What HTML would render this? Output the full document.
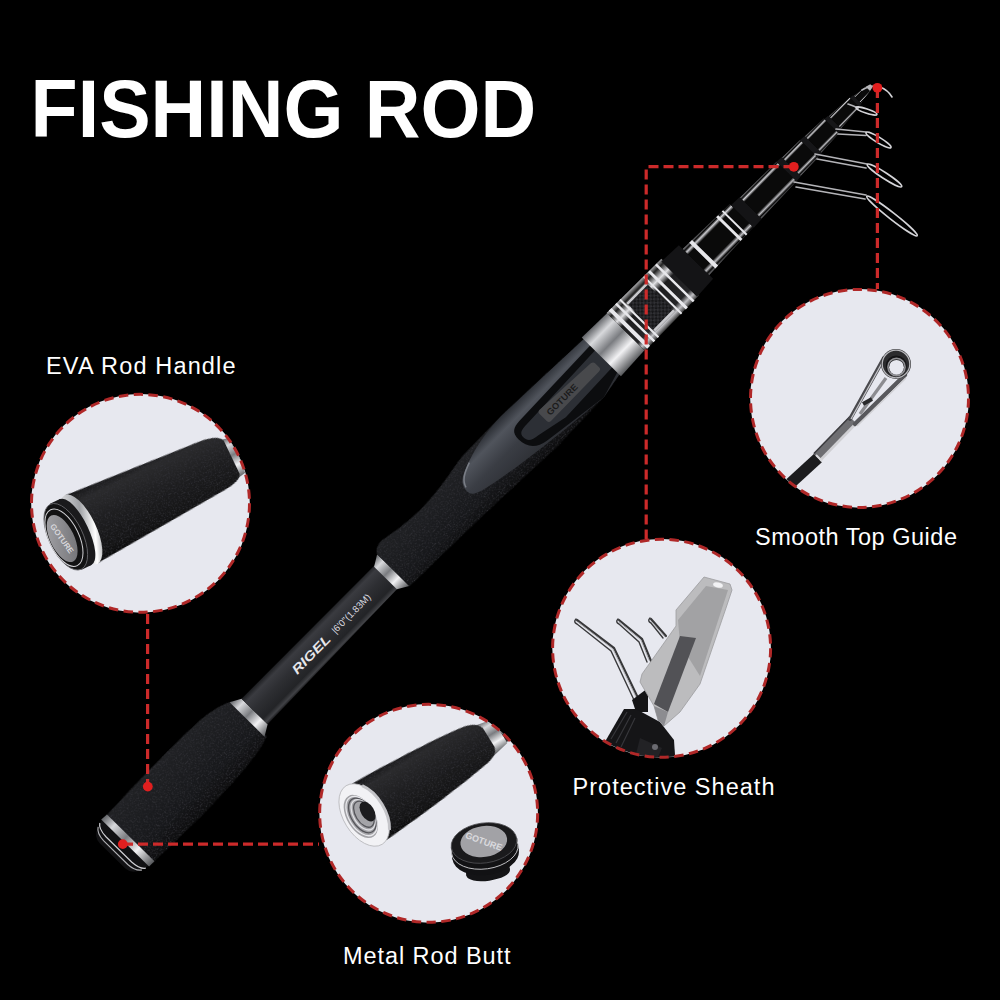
<!DOCTYPE html>
<html><head><meta charset="utf-8"><style>
html,body{margin:0;padding:0;background:#000;width:1000px;height:1000px;overflow:hidden}
svg{display:block}
text{font-family:"Liberation Sans",sans-serif;fill:#fff}
</style></head>
<body><svg width="1000" height="1000" viewBox="0 0 1000 1000">
<defs>
<clipPath id="c1"><circle cx="140.5" cy="503.35" r="109"/></clipPath>
<clipPath id="c2"><circle cx="859.5" cy="398.4" r="109"/></clipPath>
<clipPath id="c3"><circle cx="428.65" cy="813.35" r="109"/></clipPath>
<clipPath id="c4"><circle cx="661.6" cy="648.25" r="109"/></clipPath>

<linearGradient id="foam" x1="0" y1="0" x2="0" y2="1">
<stop offset="0" stop-color="#202124"/><stop offset="0.3" stop-color="#1d1e21"/><stop offset="0.7" stop-color="#17181b"/><stop offset="1" stop-color="#0c0c0d"/>
</linearGradient>
<linearGradient id="blank" x1="0" y1="0" x2="0" y2="1">
<stop offset="0" stop-color="#1c1d20"/><stop offset="0.15" stop-color="#3a3b40"/><stop offset="0.45" stop-color="#2d2e32"/><stop offset="0.8" stop-color="#232427"/><stop offset="0.92" stop-color="#414246"/><stop offset="1" stop-color="#18181a"/>
</linearGradient>
<linearGradient id="silver" x1="0" y1="0" x2="0" y2="1">
<stop offset="0" stop-color="#606266"/><stop offset="0.2" stop-color="#d8d9dc"/><stop offset="0.45" stop-color="#7a7c80"/><stop offset="0.7" stop-color="#f2f2f4"/><stop offset="1" stop-color="#55575a"/>
</linearGradient>
<linearGradient id="seat" x1="0" y1="0" x2="0" y2="1">
<stop offset="0" stop-color="#2a2d33"/><stop offset="0.2" stop-color="#50545c"/><stop offset="0.5" stop-color="#3a3d44"/><stop offset="1" stop-color="#2a2c31"/>
</linearGradient>
<linearGradient id="glass" x1="0" y1="0" x2="0" y2="1">
<stop offset="0" stop-color="#8a8a8e"/><stop offset="0.07" stop-color="#050505"/><stop offset="0.13" stop-color="#cfcfd3"/><stop offset="0.21" stop-color="#0a0a0a"/><stop offset="0.78" stop-color="#0a0a0a"/><stop offset="0.86" stop-color="#bdbdc1"/><stop offset="0.93" stop-color="#050505"/><stop offset="1" stop-color="#7a7a7e"/>
</linearGradient>
<linearGradient id="carbon" x1="0" y1="0" x2="0" y2="1">
<stop offset="0" stop-color="#b8b8bb"/><stop offset="0.1" stop-color="#222"/><stop offset="0.25" stop-color="#e0e0e3"/><stop offset="0.38" stop-color="#1c1c1e"/><stop offset="0.8" stop-color="#262628"/><stop offset="0.9" stop-color="#c0c0c4"/><stop offset="1" stop-color="#333"/>
</linearGradient>

<linearGradient id="foamC" x1="0" y1="0" x2="0" y2="1">
<stop offset="0" stop-color="#161618"/><stop offset="0.15" stop-color="#2a2a2c"/><stop offset="0.45" stop-color="#1f1f21"/><stop offset="0.85" stop-color="#141415"/><stop offset="1" stop-color="#0a0a0a"/>
</linearGradient>
<linearGradient id="silverC" x1="0" y1="0" x2="1" y2="1">
<stop offset="0" stop-color="#f4f4f6"/><stop offset="0.5" stop-color="#a0a2a6"/><stop offset="0.75" stop-color="#ffffff"/><stop offset="1" stop-color="#6a6c70"/>
</linearGradient>
<linearGradient id="plate" x1="0" y1="0" x2="1" y2="1">
<stop offset="0" stop-color="#a6a6aa"/><stop offset="1" stop-color="#6e6e72"/>
</linearGradient>
<linearGradient id="sheath" x1="0" y1="0" x2="1" y2="0">
<stop offset="0" stop-color="#c4c4c6"/><stop offset="0.5" stop-color="#a8a8aa"/><stop offset="1" stop-color="#bdbdc0"/>
</linearGradient>
<pattern id="chk" width="5" height="5" patternUnits="userSpaceOnUse"><rect width="5" height="5" fill="#161618"/><rect width="2.5" height="2.5" fill="#303034"/><rect x="2.5" y="2.5" width="2.5" height="2.5" fill="#303034"/></pattern>
<filter id="tex" x="0" y="0" width="100%" height="100%" color-interpolation-filters="sRGB">
<feTurbulence type="fractalNoise" baseFrequency="0.8" numOctaves="2" seed="3" result="n"/>
<feColorMatrix in="n" type="matrix" values="0 0 0 0 0.19  0 0 0 0 0.19  0 0 0 0 0.21  0 0 0 3.5 -1.75" result="sp"/>
<feComposite in="sp" in2="SourceGraphic" operator="in" result="spc"/>
<feMerge><feMergeNode in="SourceGraphic"/><feMergeNode in="spc"/></feMerge>
</filter>
</defs>
<rect width="1000" height="1000" fill="#000"/>

<!-- title -->
<text x="30.6" y="137" font-size="82" font-weight="bold" textLength="505.6" lengthAdjust="spacingAndGlyphs">FISHING ROD</text>

<!-- labels -->
<text x="46" y="374" font-size="23.5" textLength="189.5" lengthAdjust="spacing">EVA Rod Handle</text>
<text x="755" y="545" font-size="23.5" textLength="202" lengthAdjust="spacing">Smooth Top Guide</text>
<text x="572.5" y="794.5" font-size="23.5" textLength="202" lengthAdjust="spacing">Protective Sheath</text>
<text x="343" y="963.5" font-size="23.5" textLength="167.5" lengthAdjust="spacing">Metal Rod Butt</text>


<!-- ROD -->
<g transform="translate(126.85 841.15) rotate(-45.5)">
 <!-- rear grip -->
 <path d="M3 -32.5 C 50 -34, 110 -34.5, 138 -32.5 Q 162 -30 173 -23 L173 26 Q 162 31 142 32.5 C 110 36.5, 50 36, 3 33.5 Z" fill="url(#foam)" filter="url(#tex)"/>
 <!-- butt cap -->
 <path d="M-1 -33 L-11 -30 Q-20 -27 -20.5 -18 L-20.5 18 Q-20 27 -11 30 L-1 33.5 Z" fill="#111113"/>
 <path d="M-2.5 -33.5 L5 -32.8 L5 33.8 L-2.5 33.6 Z" fill="url(#silver)"/>
 <path d="M-6 -32 Q-11 -29 -11.5 -18 L-11.5 18 Q-11 29 -6 32.5" fill="none" stroke="#d0d0d4" stroke-width="1.2"/>
 <path d="M-10 -30.5 Q-15.5 -27 -16 -17 L-16 17 Q-15.5 27 -10 31" fill="none" stroke="#b0b0b4" stroke-width="1.1"/>
 <!-- ring cone -->
 <path d="M171 -24 L182 -18 L182 18.5 L171 25 Z" fill="url(#silver)"/>
 <!-- blank -->
 <path d="M182 -18 L380 -16.5 L380 16 L182 18.5 Z" fill="url(#blank)"/>
 <text x="238" y="5" font-size="13" font-weight="bold" font-style="italic" textLength="49" lengthAdjust="spacingAndGlyphs" style="fill:#e6e6ea">RIGEL</text>
 <text x="294" y="3.8" font-size="9.5" textLength="51" lengthAdjust="spacingAndGlyphs" style="fill:#dcdce0">|6'0"(1.83M)</text>
 <!-- front ring -->
 <path d="M369 -16 L380 -22.5 L380 22.5 L369 16 Z" fill="url(#silver)"/>
 <!-- front grip -->
 <path d="M380 -23 Q384 -29 392 -29 C 400 -28, 420 -23, 445 -23 C 470 -23, 490 -28, 510 -30.5 L565 -31 L614 -29 L679 -26 L679 24 L651 29 L581 30.5 C 540 28, 470 25, 380 23 Z" fill="url(#foam)" filter="url(#tex)"/>
 <!-- reel seat body -->
 <path d="M488 -2 C 488 -12, 494 -16, 505 -20 C 520 -26, 540 -30.5, 565 -31 L614 -29 L679 -26 L679 24 L651 29 C 620 26, 560 20, 520 12 C 500 8, 488 6, 488 -2 Z" fill="url(#seat)"/>
 <path d="M490 -6 C 492 -13, 498 -17, 510 -21" fill="none" stroke="#7a7e86" stroke-width="1.5"/>
 <!-- slot -->
 <path d="M561 -2 C 561 -12, 566 -14, 575 -14.5 L679 -17 L679 21 L651 29 L580 19 C 568 17, 561 10, 561 -2 Z" fill="#0c0d0f"/>
 <path d="M566 0 C 566 -6, 570 -7, 578 -7 L679 -10 L679 14 L610 16 L578 9 C 570 8, 566 6, 566 0 Z" fill="#2c2f35"/>
 <path d="M597 -8 L666 -4 Q669 -3.5 669 -1 L669 5 Q669 7.5 666 7.5 L597 8 Q594 8 594 5 L594 -5 Q594 -8 597 -8 Z" fill="#48494c"/>
 <text x="600" y="4" font-size="9" font-weight="bold" textLength="40" lengthAdjust="spacingAndGlyphs" style="fill:#1c1c1c">GOTURE</text>
 <!-- collar -->
 <path d="M678 -28.5 L713 -27.5 L713 25 L678 26.5 Z" fill="url(#silver)"/>
 <!-- carbon section -->
 <path d="M713 -28 L790 -27 L790 25.5 L713 26 Z" fill="url(#carbon)"/>
 <rect x="734" y="-19" width="28" height="36" fill="url(#chk)"/>
 <path d="M734 -21 h28 v2.5 h-28z M734 17 h28 v2.5 h-28z" fill="#c8c8cc"/>
 <path d="M716 -28 h4 v54 h-4z M725 -28 h2.5 v54 h-2.5z M731 -28 h2 v54 h-2z M764 -27 h2 v53 h-2z M771 -27 h3 v53 h-3z M781 -27 h2.5 v53 h-2.5z" fill="#e8e8ec"/>
 <!-- rubber ring -->
 <path d="M788 -25 L812 -24 L812 24 L788 25 Z" fill="#141416"/>
 <!-- section 2 -->
 <path d="M812 -18.5 L877 -16.5 L877 16.5 L812 18.5 Z" fill="url(#glass)"/>
 <path d="M821 -18.3 h4 v36.6 h-4z M858 -17 h3 v34 h-3z M866 -17 h2 v34 h-2z" fill="#e6e6ea"/>
 <g transform="translate(0 1.2)">
 <path d="M877 -16 L889 -15.5 L889 15.5 L877 16 Z" fill="#141416"/>
 <path d="M889 -15 L940 -14 L940 14 L889 15 Z" fill="url(#glass)"/>
 <path d="M940 -14 L947 -13.5 L947 13.5 L940 14 Z" fill="#161618"/>
 <path d="M947 -13 L972 -12.5 L972 12.5 L947 13 Z" fill="url(#glass)"/>
 <path d="M972 -12.5 L978 -12 L978 12 L972 12.5 Z" fill="#161618"/>
 <path d="M978 -11.5 L1004 -10.5 L1004 10.5 L978 11.5 Z" fill="url(#glass)"/>
 <path d="M1004 -10 L1009 -9.5 L1009 9.5 L1004 10 Z" fill="#161618"/>
 <path d="M1009 -8.5 L1037 -7 L1037 7 L1009 8.5 Z" fill="url(#glass)"/>
 <path d="M1037 -6.5 L1041 -6 L1041 6 L1037 6.5 Z" fill="#161618"/>
 <path d="M1041 -5 L1056 -3 L1056 3 L1041 5 Z" fill="url(#glass)"/>
 <path d="M1056 -3 L1061 -1.5 L1061 2 L1056 3 Z" fill="#b8b8bc"/>
 </g>
</g>
<!-- guides -->
<g fill="none" stroke-linecap="round">
 <g stroke="#b4b4b8" stroke-width="1.7">
  <path d="M862 90 Q872 84 880 87"/>
  <path d="M848 104 Q854 106 858 108"/>
  <path d="M836 129 L866 132"/>
  <path d="M838 134 L866 135.5"/>
  <path d="M815 154 L867 164"/>
  <path d="M817 159 L866 168"/>
  <path d="M794 182 L866 195"/>
  <path d="M796 187 L865 199"/>
 </g>
 <g stroke="#d4d4d8" stroke-width="1.6">
  <path d="M880 87 Q888 90 892 97"/>
  <ellipse cx="866.5" cy="111" rx="11" ry="2.2" transform="rotate(18 866.5 111)"/>
  <ellipse cx="878.5" cy="140" rx="14.5" ry="2.8" transform="rotate(31 878.5 140)"/>
  <ellipse cx="884.5" cy="175.5" rx="20.5" ry="3" transform="rotate(33 884.5 175.5)"/>
  <ellipse cx="892" cy="216" rx="32" ry="3.3" transform="rotate(38 892 216)"/>
 </g>
</g>

<!-- circles -->
<circle cx="140.5" cy="503.35" r="109.3" fill="#e7e8ef"/>
<circle cx="859.5" cy="398.4" r="109.3" fill="#e7e8ef"/>
<circle cx="428.65" cy="813.35" r="109.3" fill="#e7e8ef"/>
<circle cx="661.6" cy="648.25" r="109.3" fill="#e7e8ef"/>


<!-- circle 1 content: EVA handle -->
<g clip-path="url(#c1)">
 <g transform="translate(82 529) rotate(-25.6)">
  <path d="M170 -16 L230 -12 L230 12 L170 16 Z" fill="#3a3a3c"/>
  <path d="M160 -21 L176 -18 L176 19 L160 22 Z" fill="url(#silver)"/>
  <path d="M0 -37.5 L145 -28 Q164 -26 166 -18 L166 18 Q164 25 145 26.5 L0 37.5 Z" fill="url(#foamC)" filter="url(#tex)"/>
  <ellipse cx="-1" cy="0" rx="15" ry="38" fill="url(#silverC)"/>
  <ellipse cx="-7" cy="0" rx="13" ry="36.5" fill="#1a1a1c"/>
  <rect x="-18" y="-36.5" width="11" height="73" fill="#1a1a1c"/>
  <ellipse cx="-18" cy="0" rx="17" ry="36" fill="#121213" stroke="#6a6a6e" stroke-width="0.8"/>
  <ellipse cx="-20" cy="0" rx="15" ry="31" fill="none" stroke="#d0d0d4" stroke-width="1"/>
  <ellipse cx="-22" cy="0" rx="12" ry="25.5" fill="url(#plate)"/>
  <text x="-22" y="3" font-size="8" font-weight="bold" text-anchor="middle" fill="#d8d8dc" transform="rotate(80 -22 0)" style="fill:#d8d8dc">GOTURE</text>
 </g>
</g>

<!-- circle 3 content: Metal rod butt -->
<g clip-path="url(#c3)">
 <g transform="translate(369 812) rotate(-31.7)">
  <path d="M150 -13 L230 -10 L230 10 L150 13 Z" fill="#2e2e30"/>
  <path d="M134 -18 L154 -14 L154 14 L134 18 Z" fill="url(#silver)"/>
  <path d="M0 -33 C 50 -31, 100 -27, 124 -23 Q140 -20 141 -10 L141 10 Q140 19 124 21 C 100 25, 50 30, 0 33 Z" fill="url(#foamC)" filter="url(#tex)"/>
  <ellipse cx="-5.7" cy="0" rx="20.7" ry="34.4" fill="#f2f2f5" stroke="#b8b8bc" stroke-width="0.8"/>
  <path d="M8 -26 A20.7 34.4 0 0 1 8 26" fill="none" stroke="#c4c4c8" stroke-width="3"/>
  <ellipse cx="-9.3" cy="-0.5" rx="13.8" ry="23.9" fill="#a4a4a8"/>
  <g fill="none" stroke-width="1.3">
   <ellipse cx="-8.5" cy="-0.5" rx="12.5" ry="21.8" stroke="#e8e8ec"/>
   <ellipse cx="-7.5" cy="-0.6" rx="11" ry="19.2" stroke="#55555a"/>
   <ellipse cx="-6.5" cy="-0.7" rx="9.6" ry="16.8" stroke="#e0e0e4"/>
   <ellipse cx="-5.5" cy="-0.8" rx="8.2" ry="14.4" stroke="#55555a"/>
  </g>
  <ellipse cx="-1" cy="-1.2" rx="6.5" ry="11" fill="#1c1c1e"/>

 </g>
 <!-- cap -->
 <g transform="translate(484 843) rotate(-8)">
  <rect x="-22" y="8" width="44" height="22" fill="#141416"/>
  <ellipse cx="0" cy="30" rx="22" ry="8" fill="#141416"/>
  <rect x="-33.5" y="0" width="67" height="12" fill="#121214"/>
  <ellipse cx="0" cy="12" rx="33.5" ry="20" fill="#121214"/>
  <ellipse cx="0" cy="6" rx="33.5" ry="20" fill="none" stroke="#c8c8cc" stroke-width="0.9"/>
  <ellipse cx="0" cy="0" rx="33" ry="20" fill="#1a1a1c" stroke="#505054" stroke-width="0.8"/>
  <ellipse cx="0" cy="-1.5" rx="23.5" ry="15.5" fill="#a2a2a6"/>
  <text x="0" y="1.5" font-size="9" font-weight="bold" text-anchor="middle" style="fill:#dadade" transform="rotate(28 0 -1.5)">GOTURE</text>
 </g>
</g>

<!-- circle 2 content: top guide -->
<g clip-path="url(#c2)">
 <path d="M770 502 L818 458" stroke="#1c1c1e" stroke-width="11.5"/>
 <path d="M817 457 L853 420" stroke="#6e6e72" stroke-width="10"/>
 <path d="M820 460.5 L856 423.5" stroke="#cfcfd3" stroke-width="2.6"/>
 <path d="M814 453.5 L850 416.5" stroke="#3c3c40" stroke-width="1.6"/>
 <path d="M816 455 L822 461" stroke="#d8d8dc" stroke-width="2"/>
 <path d="M850 419 L884 358" stroke="#4a4a4e" stroke-width="4" stroke-linecap="round"/>
 <path d="M851 419 L882 363" stroke="#c6c6ca" stroke-width="1.3"/>
 <path d="M855 424 L905 375" stroke="#58585c" stroke-width="4.5" stroke-linecap="round"/>
 <path d="M857 426 L906 378" stroke="#d0d0d4" stroke-width="1.5"/>
 <path d="M860 414 L886 378" stroke="#8c8c90" stroke-width="3.2"/>
 <path d="M863 404 L872 399" stroke="#2a2a2c" stroke-width="4"/>
 <circle cx="896" cy="364" r="15" fill="#2c2c2e"/>
 <circle cx="896" cy="364" r="13.8" fill="none" stroke="#b8b8bc" stroke-width="1.3"/>
 <circle cx="896.3" cy="366" r="10.5" fill="#141416"/>
 <circle cx="896.5" cy="367" r="8.6" fill="none" stroke="#8e8e92" stroke-width="1.6"/>
 <circle cx="896.5" cy="367.3" r="7.4" fill="#e7e8ef"/>
</g>

<!-- circle 4 content: protective sheath -->
<g clip-path="url(#c4)">
 <g fill="none" stroke-linecap="round">
  <g stroke="#38383a" stroke-width="2.2">
   <path d="M577 620 L614 648 L639 700"/>
   <path d="M619 620 L642 639 L651 661"/>
   <path d="M651 619 L666 636"/>
  </g>
  <g stroke="#a8a8ac" stroke-width="0.9">
   <path d="M578 622 L613 649 L637 699"/>
   <path d="M619 622 L641 640 L649 660"/>
   <path d="M651 621 L665 637"/>
  </g>
  <g stroke="#3a3a3c" stroke-width="1.4">
   <path d="M576 619 Q573 622 577 624 L611 651 L634 700"/>
   <path d="M618 619 Q615 622 619 624 L639 642 L647 662"/>
   <path d="M650 618 Q647 621 651 623 L663 638"/>
  </g>
 </g>
 <path d="M632 700 L648 688 L648 712 L636 712 Z" fill="#141416"/>
 <path d="M606 740 L624 709 L636 709 L660 722 L674 740 L676 770 L600 770 Z" fill="#151517"/>
 <path d="M611 739 L627 712 M616 743 L631 715 M621 747 L635 718" stroke="#36363a" stroke-width="1.2"/>
 <path d="M640 738 L662 748 L656 762 L636 754 Z" fill="#222225"/>
 <circle cx="655" cy="747" r="3" fill="#6a6a70"/>
 <path d="M704 577 L730 584 L732 590 L726 608 L700 684 L680 712 L664 726 L658 720 L654 706 L640 682 L642 674 L676 626 L676 610 Z" fill="#bcbcbe" stroke="#9c9c9e" stroke-width="0.8"/>
 <path d="M678 620 L706 586 L728 590 L700 676 L680 644 Z" fill="#a2a2a4"/>
 <path d="M654 704 L680 636 L696 638 L668 712 Z" fill="#525256"/>
 <path d="M664 726 L658 720 L654 706 L668 712 Z" fill="#8c8c90"/>
 <ellipse cx="718" cy="585" rx="5" ry="2.5" fill="#f2f2f4" transform="rotate(15 718 585)"/>
</g>

<!-- dashed borders -->
<g fill="none" stroke="#b02828" stroke-width="3" stroke-dasharray="9.4 5.49">
<circle cx="140.5" cy="503.35" r="109"/>
<circle cx="859.5" cy="398.4" r="109"/>
<circle cx="428.65" cy="813.35" r="109"/>
<circle cx="661.6" cy="648.25" r="109"/>
</g>

<!-- connector lines -->
<g fill="none" stroke="#cc2a2a" stroke-width="3.2" stroke-dasharray="10 5">
<path d="M147.6 614 V786"/>
<path d="M123 844.2 H319"/>
<path d="M877.4 88 V289"/>
<path d="M793.5 166.7 H646.2 V539"/>
</g>
<g fill="#e11f1f">
<circle cx="147.8" cy="786.6" r="4.9"/>
<circle cx="122.8" cy="844.1" r="4.9"/>
<circle cx="877.4" cy="87.8" r="4.9"/>
<circle cx="793.8" cy="166.8" r="4.9"/>
</g>
</svg></body></html>
